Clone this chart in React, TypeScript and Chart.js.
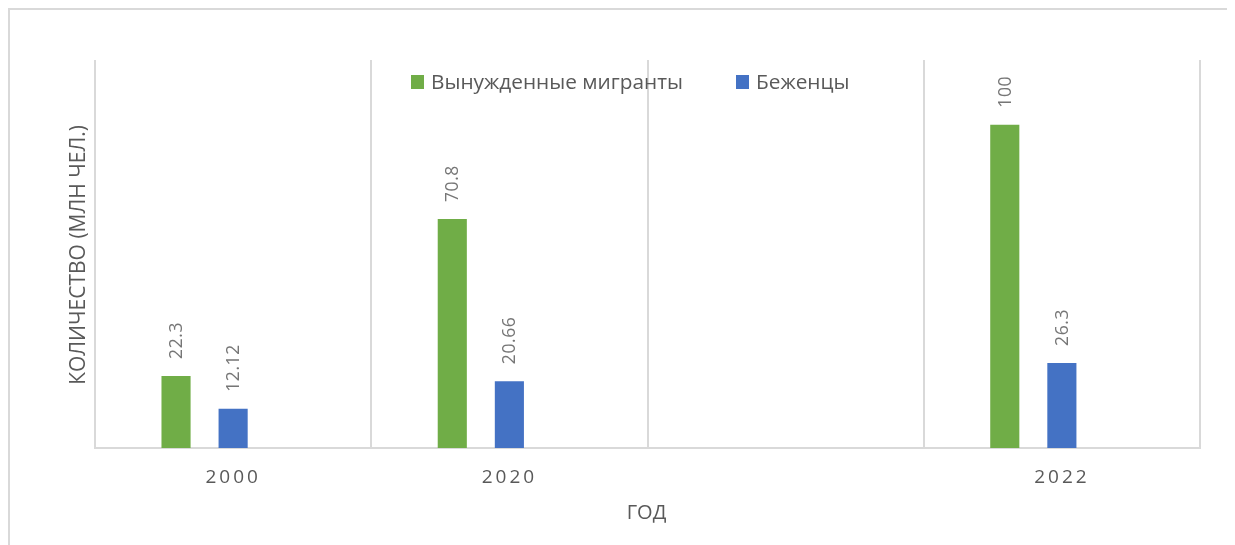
import React, { useEffect, useRef } from "react";
import { Chart, registerables } from "chart.js";

Chart.register(...registerables);

const categories = ["2000", "2020", "", "2022"];
const forcedMigrants = [22.3, 70.8, null, 100];
const refugees = [12.12, 20.66, null, 26.3];
const emptySeries = [null, null, null, null];
const seriesNames = ["Вынужденные мигранты", "Беженцы"];
const seriesColors = ["#70AD47", "#4472C4"];
const yTitle = "КОЛИЧЕСТВО (МЛН ЧЕЛ.)";
const xTitle = "ГОД";

const FONT = "'Open Sans', 'Noto Sans', sans-serif";
const TEXT = "#595959";
const LABEL = "#767676";

const overlayPlugin = {
  id: "overlay",
  afterDatasetsDraw(chart: any) {
    const ctx = chart.ctx as CanvasRenderingContext2D;
    const area = chart.chartArea;
    const xScale = chart.scales.x;

    // data labels
    ctx.save();
    ctx.font = `17.5px ${FONT}`;
    ctx.fillStyle = LABEL;
    ctx.textAlign = "left";
    ctx.textBaseline = "middle";
    (ctx as any).letterSpacing = "0.6px";
    [0, 1].forEach((di) => {
      const meta = chart.getDatasetMeta(di);
      const data = chart.data.datasets[di].data;
      meta.data.forEach((el: any, i: number) => {
        const v = data[i];
        if (v === null || v === undefined) return;
        ctx.save();
        ctx.translate(el.x + 1, el.y - 17);
        ctx.rotate(-Math.PI / 2);
        ctx.fillText(String(v), 0, 0);
        ctx.restore();
      });
    });
    ctx.restore();

    // x tick labels
    ctx.save();
    ctx.font = `19px ${FONT}`;
    ctx.fillStyle = TEXT;
    ctx.textAlign = "center";
    ctx.textBaseline = "alphabetic";
    (ctx as any).letterSpacing = "3px";
    categories.forEach((c, i) => {
      if (!c) return;
      const x = xScale.getPixelForValue(i);
      ctx.fillText(c, x, area.bottom + 35);
    });
    ctx.restore();

    // x title
    ctx.save();
    ctx.font = `20px ${FONT}`;
    ctx.fillStyle = TEXT;
    ctx.textAlign = "center";
    ctx.textBaseline = "alphabetic";
    ctx.fillText(xTitle, (area.left + area.right) / 2 - 1, area.bottom + 71);
    ctx.restore();

    // y title
    ctx.save();
    ctx.font = `21px ${FONT}`;
    ctx.fillStyle = TEXT;
    ctx.textAlign = "center";
    ctx.textBaseline = "alphabetic";
    ctx.translate(75, (area.top + area.bottom) / 2 + 1);
    ctx.rotate(-Math.PI / 2);
    ctx.fillText(yTitle, 0, 0);
    ctx.restore();

    // legend
    ctx.save();
    ctx.font = `20.8px ${FONT}`;
    ctx.textAlign = "left";
    ctx.textBaseline = "alphabetic";
    const legendX = [401, 726];
    seriesNames.forEach((name, i) => {
      ctx.fillStyle = seriesColors[i];
      ctx.fillRect(legendX[i], 65, 13, 14);
      ctx.fillStyle = TEXT;
      ctx.fillText(name, legendX[i] + 20, 79);
    });
    ctx.restore();
  },
};

export default function App() {
  const ref = useRef<HTMLCanvasElement | null>(null);
  useEffect(() => {
    if (!ref.current) return;
    const chart = new Chart(ref.current, {
      type: "bar",
      data: {
        labels: categories,
        datasets: [
          { label: seriesNames[0], data: forcedMigrants, backgroundColor: seriesColors[0] },
          { label: seriesNames[1], data: refugees, backgroundColor: seriesColors[1] },
          { label: "", data: emptySeries, backgroundColor: "transparent" },
        ],
      },
      options: {
        responsive: false,
        animation: false,
        devicePixelRatio: 1,
        layout: { padding: { left: 85, right: 35, top: 50, bottom: 97 } },
        datasets: { bar: { categoryPercentage: 0.62, barPercentage: 0.51 } },
        plugins: { legend: { display: false }, tooltip: { enabled: false }, title: { display: false } },
        scales: {
          x: {
            display: true,
            grid: { display: true, offset: true, drawTicks: false, color: "#D9D9D9", lineWidth: 2 },
            border: { display: true, color: "#D9D9D9", width: 2 },
            ticks: { display: false },
          },
          y: { display: false, min: 0, max: 120 },
        },
      },
      plugins: [overlayPlugin],
    });
    return () => chart.destroy();
  }, []);
  return (
    <div
      style={{
        width: 1225,
        height: 535,
        borderTop: "2px solid #D9D9D9",
        borderLeft: "2px solid #D9D9D9",
        background: "#fff",
      }}
    >
      <canvas ref={ref} width={1225} height={535} style={{ display: "block" }} />
    </div>
  );
}
